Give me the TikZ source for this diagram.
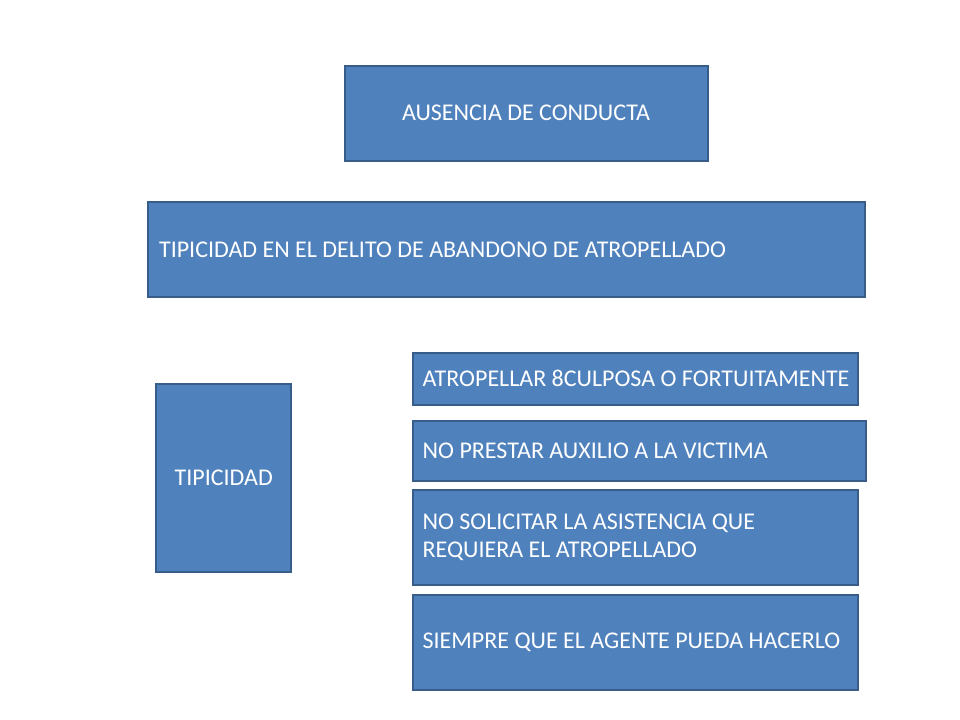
\documentclass[tikz,border=0pt]{standalone}
\usepackage{fontspec}
\setmainfont{Carlito}
\definecolor{relleno}{HTML}{4F81BD}
\definecolor{borde}{HTML}{385D8A}

\begin{document}
\begin{tikzpicture}[x=0.75pt,y=-0.75pt,
  caja/.style={draw=borde,fill=relleno,line width=1.5pt,text=white,
    font=\fontsize{18}{21.2}\selectfont,inner sep=0pt},
  lista/.style={caja,align=flush left,inner xsep=7.5pt,text width=#1}]
\useasboundingbox (0,0) rectangle (960,720);
\node[caja,minimum width=272.25pt,minimum height=71pt](conducta) at (526,113.3) {AUSENCIA DE CONDUCTA};
\node[lista=521pt,inner xsep=8.45pt,minimum height=71pt](delito) at (506.4,249.4) {TIPICIDAD EN EL DELITO DE ABANDONO DE ATROPELLADO};

\node[caja,minimum width=101.5pt,minimum height=141pt](tipicidad) at (223.7,477.7) {TIPICIDAD};

\node[lista=319.2pt,minimum height=39.2pt](atropellar) at (635.5,378.8) {\mbox{ATROPELLAR 8CULPOSA O FORTUITAMENTE}};
\node[lista=325.2pt,minimum height=44.8pt](auxilio) at (639.5,450.8) {NO PRESTAR AUXILIO A LA VICTIMA};
\node[lista=319pt,minimum height=71.25pt](asistencia) at (635.3,537.5) {NO SOLICITAR LA ASISTENCIA QUE\\REQUIERA EL ATROPELLADO};
\node[lista=319pt,minimum height=71pt](agente) at (635.3,642.3) {\mbox{SIEMPRE QUE EL AGENTE PUEDA HACERLO}};
\end{tikzpicture}
\end{document}
